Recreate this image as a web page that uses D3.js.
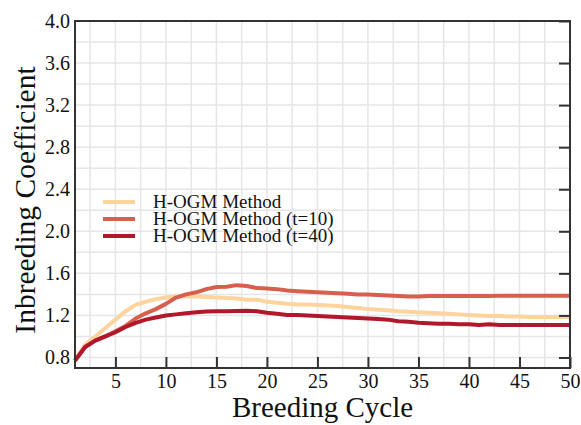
<!DOCTYPE html>
<html>
<head>
<meta charset="utf-8">
<script src="https://cdn.jsdelivr.net/npm/d3@7"></script>
<style>
  body { margin: 0; background: #fff; }
  text { font-family: "Liberation Serif", "DejaVu Serif", serif; fill: #111; }
</style>
</head>
<body>
<script>
const w = 581;
const h = 425;
const margin = { top: 21, right: 11, bottom: 57, left: 75 };

// breeding cycles 1..50
const cycles = d3.range(1, 51);

const hogm = [0.77, 0.92, 1.00, 1.08, 1.16, 1.24, 1.30, 1.33, 1.355, 1.37,
  1.38, 1.38, 1.38, 1.375, 1.37, 1.365, 1.36, 1.35, 1.35, 1.33,
  1.32, 1.31, 1.305, 1.305, 1.30, 1.295, 1.29, 1.28, 1.27, 1.26,
  1.255, 1.25, 1.24, 1.235, 1.23, 1.225, 1.22, 1.215, 1.21, 1.205,
  1.20, 1.195, 1.195, 1.19, 1.19, 1.185, 1.185, 1.185, 1.185, 1.185];

const hogmT10 = [0.77, 0.90, 0.96, 1.00, 1.05, 1.10, 1.17, 1.22, 1.26, 1.31,
  1.37, 1.40, 1.42, 1.45, 1.47, 1.472, 1.488, 1.48, 1.46, 1.455,
  1.45, 1.437, 1.43, 1.425, 1.42, 1.415, 1.41, 1.405, 1.40, 1.40,
  1.395, 1.39, 1.385, 1.38, 1.38, 1.385, 1.385, 1.385, 1.385, 1.385,
  1.385, 1.385, 1.387, 1.387, 1.387, 1.388, 1.388, 1.388, 1.388, 1.388];

const hogmT40 = [0.77, 0.90, 0.96, 1.00, 1.04, 1.09, 1.13, 1.16, 1.18, 1.20,
  1.21, 1.22, 1.23, 1.237, 1.24, 1.24, 1.242, 1.245, 1.24, 1.225,
  1.215, 1.205, 1.205, 1.20, 1.195, 1.19, 1.185, 1.18, 1.175, 1.17,
  1.165, 1.16, 1.145, 1.14, 1.13, 1.125, 1.12, 1.12, 1.115, 1.115,
  1.11, 1.115, 1.11, 1.11, 1.11, 1.11, 1.11, 1.11, 1.11, 1.11];

const seriesNames = ["H-OGM Method", "H-OGM Method (t=10)", "H-OGM Method (t=40)"];
const seriesColors = ["#fdd49e", "#d6604d", "#b2182b"];
const seriesValues = [hogm, hogmT10, hogmT40];

const xTicks = [5, 10, 15, 20, 25, 30, 35, 40, 45, 50];
const yTicks = [0.8, 1.2, 1.6, 2.0, 2.4, 2.8, 3.2, 3.6, 4.0];

const svg = d3.select("body")
  .append("svg")
  .attr("width", w)
  .attr("height", h);

const xScale = d3.scaleLinear()
  .domain([1, 50])
  .range([margin.left, w - margin.right]);

const yScale = d3.scaleLinear()
  .domain([0.7, 4.0])
  .range([h - margin.bottom, margin.top]);

// grid every 2.5 cycles and every 0.2
const grid = svg.append("g").attr("id", "grid");
grid.selectAll("line.vgrid")
  .data(d3.range(2.5, 50, 2.5))
  .enter()
  .append("line")
  .attr("x1", d => xScale(d))
  .attr("x2", d => xScale(d))
  .attr("y1", yScale(0.7))
  .attr("y2", yScale(4.0))
  .attr("stroke", "#e6e6e6")
  .attr("stroke-width", 1.5);
grid.selectAll("line.hgrid")
  .data(d3.range(8, 40, 2).map(d => d / 10))
  .enter()
  .append("line")
  .attr("x1", xScale(1))
  .attr("x2", xScale(50))
  .attr("y1", d => yScale(d))
  .attr("y2", d => yScale(d))
  .attr("stroke", "#e6e6e6")
  .attr("stroke-width", 1.5);

// series lines
const line = d3.line()
  .x((d, i) => xScale(cycles[i]))
  .y(d => yScale(d));

svg.selectAll("path.series")
  .data(seriesValues)
  .enter()
  .append("path")
  .attr("class", "series")
  .attr("d", d => line(d))
  .attr("fill", "none")
  .attr("stroke", (d, i) => seriesColors[i])
  .attr("stroke-width", 4)
  .attr("stroke-linejoin", "round");

// axes
const xAxis = d3.axisBottom(xScale)
  .tickValues(xTicks)
  .tickSizeInner(-11)
  .tickSizeOuter(0)
  .tickPadding(6)
  .tickFormat(d3.format("d"));

const xAxisGroup = svg.append("g")
  .attr("id", "x-axis")
  .attr("transform", `translate(0, ${h - margin.bottom})`)
  .call(xAxis);

const yAxis = d3.axisLeft(yScale)
  .tickValues(yTicks)
  .tickSize(0)
  .tickPadding(5)
  .tickFormat(d3.format(".1f"));

const yAxisGroup = svg.append("g")
  .attr("id", "y-axis")
  .attr("transform", `translate(${margin.left}, 0)`)
  .call(yAxis);

const yRight = d3.axisLeft(yScale)
  .tickValues(yTicks)
  .tickSizeInner(11)
  .tickSizeOuter(0)
  .tickFormat("");

svg.append("g")
  .attr("transform", `translate(${w - margin.right}, 0)`)
  .call(yRight);

[xAxisGroup, yAxisGroup].forEach(g => {
  g.selectAll(".tick text")
    .style("font-family", "Liberation Serif, serif")
    .style("font-size", "20px")
    .attr("fill", "#111");
});
svg.selectAll(".domain").remove();
svg.selectAll(".tick line")
  .attr("stroke", "#333")
  .attr("stroke-width", 2);

// frame
svg.append("rect")
  .attr("x", xScale(1))
  .attr("y", yScale(4.0))
  .attr("width", xScale(50) - xScale(1))
  .attr("height", yScale(0.7) - yScale(4.0))
  .attr("fill", "none")
  .attr("stroke", "#333")
  .attr("stroke-width", 2);

// axis titles
svg.append("text")
  .attr("x", (xScale(1) + xScale(50)) / 2)
  .attr("y", 417)
  .attr("text-anchor", "middle")
  .style("font-size", "29px")
  .text("Breeding Cycle");

svg.append("text")
  .attr("transform", "translate(35, 200) rotate(-90)")
  .attr("text-anchor", "middle")
  .style("font-size", "29.5px")
  .text("Inbreeding Coefficient");

// legend
const legend = svg.append("g")
  .attr("id", "legend")
  .selectAll("g")
  .data(seriesNames)
  .enter()
  .append("g")
  .attr("transform", (d, i) => `translate(103, ${202 + i * 17})`);

legend.append("line")
  .attr("x1", 0)
  .attr("x2", 32)
  .attr("stroke", (d, i) => seriesColors[i])
  .attr("stroke-width", 4);

legend.append("text")
  .attr("x", 50)
  .attr("y", 6)
  .style("font-size", "19px")
  .text(d => d);
</script>
</body>
</html>
